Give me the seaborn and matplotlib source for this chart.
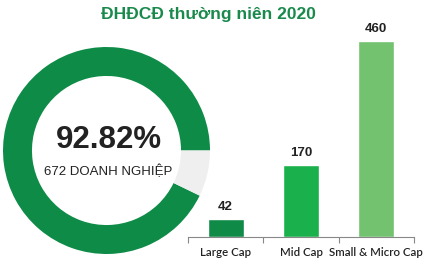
import matplotlib
matplotlib.use('Agg')
import matplotlib.pyplot as plt
import seaborn as sns
import pandas as pd

# data
categories = ['Large Cap', 'Mid Cap', 'Small & Micro Cap']
counts = [42, 170, 460]
bar_colors = ['#0f8a47', '#1ab14d', '#72c26f']
ratio_pct = 92.82
total_firms = 672

sns.set_theme(style='white')
plt.rcParams['font.family'] = ['Liberation Sans', 'DejaVu Sans']

fig = plt.figure(figsize=(4.23, 2.62), dpi=100)

# bars
df = pd.DataFrame({'cat': categories, 'n': counts})
ax2 = fig.add_axes([188 / 423, 25 / 262, 226 / 423, 227 / 262])
ax2.set_facecolor('none')
sns.barplot(data=df, x='cat', y='n', hue='cat', palette=bar_colors,
            width=0.48, saturation=1, legend=False, ax=ax2)
ax2.set_ylim(0, 533)
ax2.set_xlim(-0.5, 2.5)
for i, v in enumerate(counts):
    ax2.text(i, v + 14, str(v), ha='center', va='bottom',
             fontsize=9.5, fontweight='bold', color='#222222')
for s in ['top', 'right', 'left']:
    ax2.spines[s].set_visible(False)
ax2.spines['bottom'].set_color('#888888')
ax2.spines['bottom'].set_linewidth(0.8)
ax2.set_yticks([])
ax2.set_xticks([-0.5, 0.5, 1.5, 2.5], minor=False)
ax2.set_xticklabels([])
ax2.set_xticks([0, 1, 2], minor=True)
ax2.set_xticklabels(categories, minor=True, fontsize=8.3, color='#222222',
                    family=['Lato', 'DejaVu Sans'], fontweight='semibold')
ax2.tick_params(axis='x', which='major', length=4, color='#888888', width=0.8,
                bottom=True, direction='out')
ax2.tick_params(axis='x', which='minor', length=0, pad=7)
ax2.set_xlabel('')
ax2.set_ylabel('')

# donut
ax1 = fig.add_axes([3 / 423, 8 / 262, 207 / 423, 207 / 262])
ax1.set_facecolor('none')
ax1.pie([ratio_pct, 100 - ratio_pct], colors=['#0e8c47', '#efefef'],
        startangle=0, counterclock=True, radius=1,
        wedgeprops=dict(width=0.28, edgecolor='none'))
ax1.set_xlim(-1, 1)
ax1.set_ylim(-1, 1)
ax1.set_aspect('equal')
ax1.text(0.02, 0.1, f'{ratio_pct:.2f}%', ha='center', va='center',
         fontsize=22.5, fontweight='bold', color='#222222')
ax1.text(0.02, -0.2, f'{total_firms} DOANH NGHIỆP', ha='center', va='center',
         fontsize=9.5, color='#222222')

fig.text(208 / 423, 1 - 14 / 262, 'ĐHĐCĐ thường niên 2020', ha='center',
         va='center', fontsize=12.5, fontweight='bold', color='#1a8a4c')

fig.savefig('out.png', dpi=100)
